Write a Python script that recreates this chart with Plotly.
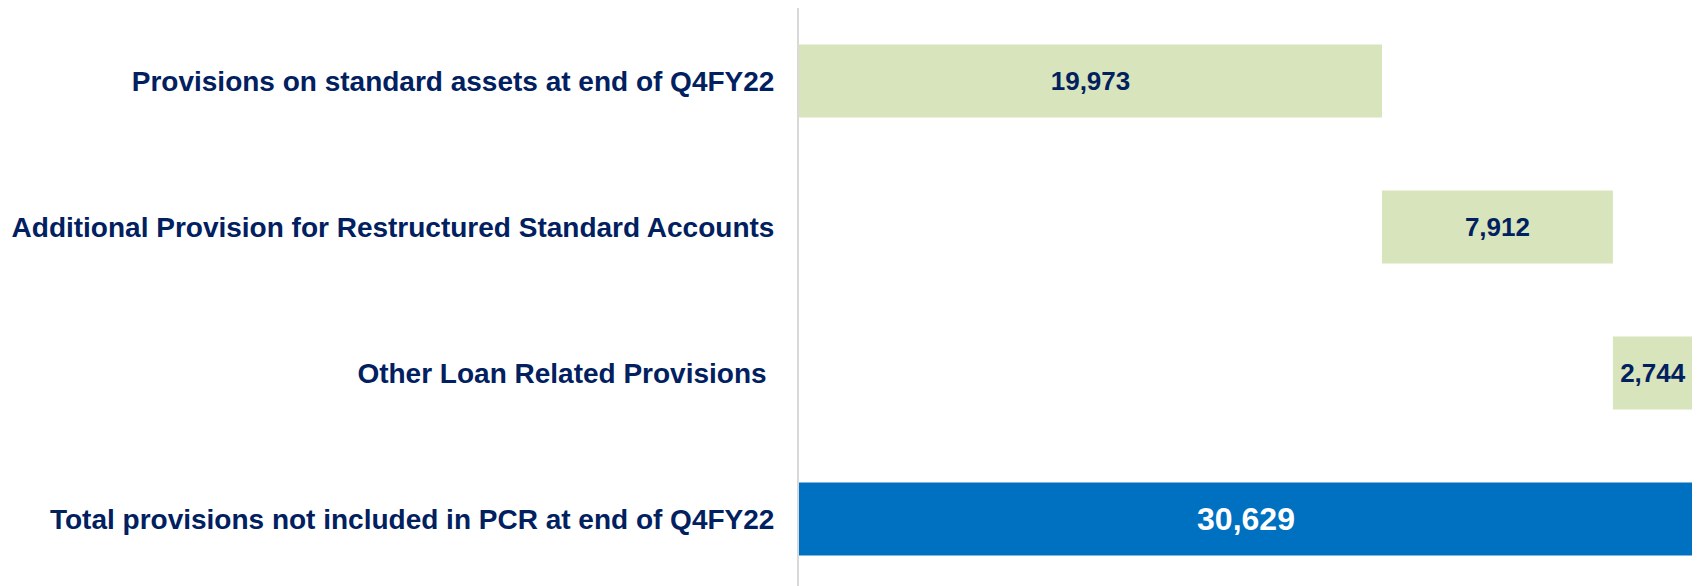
import plotly.graph_objects as go

categories = [
    "Provisions on standard assets at end of Q4FY22",
    "Additional Provision for Restructured Standard Accounts",
    "Other Loan Related Provisions\u00a0",
    "Total provisions not included in PCR at end of Q4FY22",
]
values = [19973, 7912, 2744, 30629]
measures = ["relative", "relative", "relative", "total"]
value_labels = ["19,973", "7,912", "2,744", "30,629"]

NAVY = "#002060"
GREEN = "#d8e4bc"
BLUE = "#0070c0"
FONT = "Liberation Sans, Arial, sans-serif"

fig = go.Figure(
    go.Waterfall(
        orientation="h",
        y=categories,
        x=values,
        measure=measures,
        text=value_labels,
        textposition="inside",
        insidetextanchor="middle",
        constraintext="none",
        textfont=dict(
            family=FONT,
            size=[26, 26, 26, 32],
            color=[NAVY, NAVY, NAVY, "#ffffff"],
            weight="bold",
        ),
        increasing=dict(marker=dict(color=GREEN)),
        decreasing=dict(marker=dict(color=GREEN)),
        totals=dict(marker=dict(color=BLUE)),
        connector=dict(visible=False),
        hoverinfo="skip",
    )
)

fig.update_layout(
    width=1692,
    height=578,
    margin=dict(l=791, r=7, t=0, b=0, pad=0),
    paper_bgcolor="white",
    plot_bgcolor="white",
    showlegend=False,
    waterfallgap=0.5,
    font=dict(family=FONT, color=NAVY),
    xaxis=dict(
        range=[0, 30629],
        visible=False,
        showgrid=False,
        zeroline=False,
        fixedrange=True,
    ),
    yaxis=dict(
        type="category",
        range=[3.459, -0.5],
        showgrid=False,
        zeroline=False,
        showline=True,
        linecolor="#d9d9d9",
        linewidth=2,
        ticks="",
        ticklabelstandoff=17,
        tickfont=dict(family=FONT, size=28, color=NAVY, weight="bold"),
        fixedrange=True,
    ),
)

fig.write_html("out.html", config={"displayModeBar": False})
